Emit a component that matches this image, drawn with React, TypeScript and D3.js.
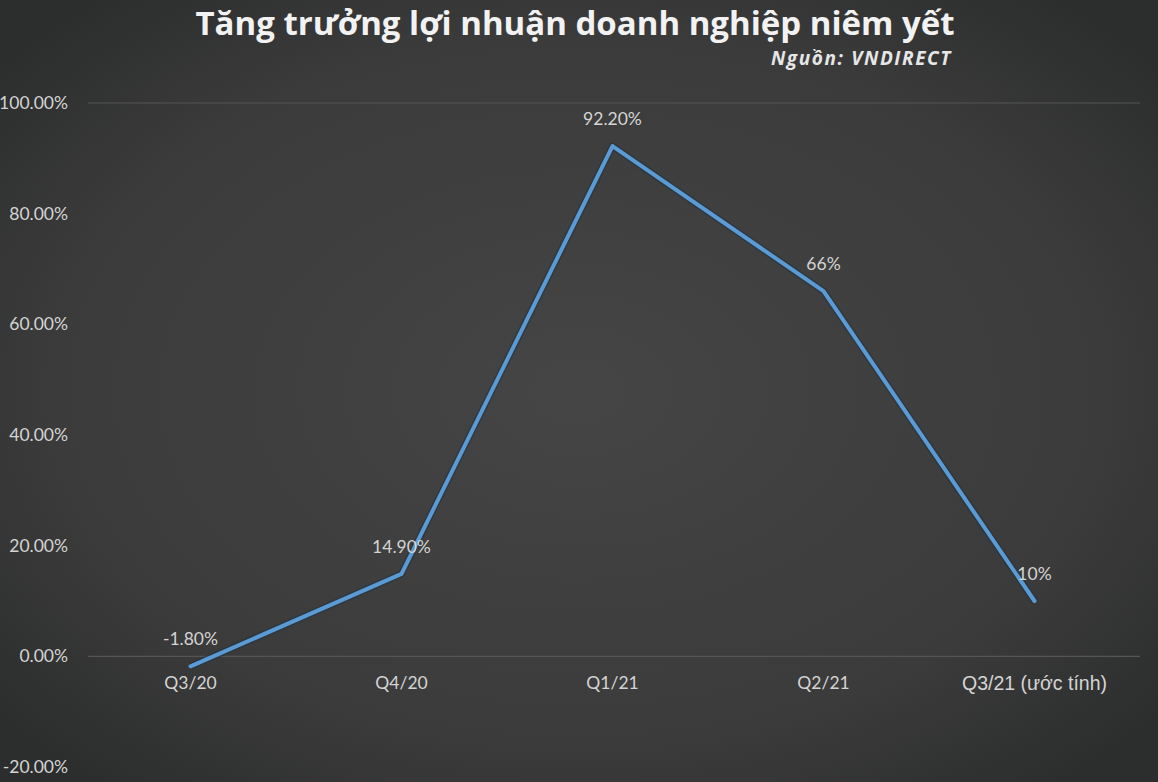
import { useEffect, useRef } from "react";
import * as d3 from "d3";

const categories = ["Q3/20", "Q4/20", "Q1/21", "Q2/21", "Q3/21 (ước tính)"];
const values = [-1.8, 14.9, 92.2, 66, 10];
const valueLabels = ["-1.80%", "14.90%", "92.20%", "66%", "10%"];
const yTicks = [-20, 0, 20, 40, 60, 80, 100];

const W = 1158;
const H = 782;
const LABEL_FONT = "Lato, 'Noto Sans', sans-serif";

const App = () => {
  const svgRef = useRef<SVGSVGElement>(null);

  useEffect(() => {
    if (!svgRef.current) return;
    const svg = d3.select(svgRef.current);
    svg.selectAll("*").remove();

    // dark vignette background
    const defs = svg.append("defs");
    const grad = defs
      .append("radialGradient")
      .attr("id", "bg")
      .attr("cx", "50%")
      .attr("cy", "50%")
      .attr("r", "65%");
    grad.append("stop").attr("offset", "0%").attr("stop-color", "#454545");
    grad.append("stop").attr("offset", "70%").attr("stop-color", "#3b3b3b");
    grad.append("stop").attr("offset", "100%").attr("stop-color", "#2c2d2d");
    svg.append("rect").attr("width", W).attr("height", H).attr("fill", "url(#bg)");

    const x = d3.scaleBand().domain(categories).range([85, 1140]);
    const y = d3.scaleLinear().domain([-20, 100]).range([767, 103]);
    const cx = (c: string) => x(c)! + x.bandwidth() / 2;

    // gridlines (only top and zero are visible in the original)
    svg
      .selectAll(".grid")
      .data([100, 0])
      .enter()
      .append("line")
      .attr("x1", 88)
      .attr("x2", 1140)
      .attr("y1", (d) => y(d))
      .attr("y2", (d) => y(d))
      .attr("stroke", "#555555")
      .attr("stroke-width", 1.2);

    // y tick labels
    svg
      .selectAll(".ytick")
      .data(yTicks)
      .enter()
      .append("text")
      .attr("x", 68)
      .attr("y", (d) => y(d))
      .attr("dy", "0.35em")
      .attr("text-anchor", "end")
      .attr("fill", "#d4d4d4")
      .attr("font-family", LABEL_FONT)
      .attr("font-size", 17.5)
      .text((d) => d.toFixed(2) + "%");

    // x category labels (the Vietnamese one falls back to an Arial-like face)
    svg
      .selectAll(".xtick")
      .data(categories)
      .enter()
      .append("text")
      .attr("x", (d) => cx(d))
      .attr("y", 683)
      .attr("dy", "0.35em")
      .attr("text-anchor", "middle")
      .attr("fill", "#d4d4d4")
      .attr("font-family", (d) =>
        /[^\x00-\x7f]/.test(d) ? "'Liberation Sans', Arial, sans-serif" : LABEL_FONT
      )
      .attr("font-size", (d) => (/[^\x00-\x7f]/.test(d) ? 19.5 : 17.5))
      .text((d) => d);

    const pts = categories.map((c, i) => ({
      c,
      v: values[i],
      label: valueLabels[i],
    }));
    const line = d3
      .line<{ c: string; v: number }>()
      .x((d) => cx(d.c))
      .y((d) => y(d.v));

    // soft shadow under the line
    svg
      .append("path")
      .datum(pts)
      .attr("d", line)
      .attr("fill", "none")
      .attr("stroke", "#1f2f40")
      .attr("stroke-width", 7)
      .attr("stroke-opacity", 0.5)
      .attr("stroke-linejoin", "round");

    svg
      .append("path")
      .datum(pts)
      .attr("d", line)
      .attr("fill", "none")
      .attr("stroke", "#5b9bd5")
      .attr("stroke-width", 4)
      .attr("stroke-linejoin", "round")
      .attr("stroke-linecap", "round");

    // data labels
    svg
      .selectAll(".dlabel")
      .data(pts)
      .enter()
      .append("text")
      .attr("x", (d) => cx(d.c))
      .attr("y", (d) => y(d.v) - 27)
      .attr("dy", "0.35em")
      .attr("text-anchor", "middle")
      .attr("fill", "#d4d4d4")
      .attr("font-family", LABEL_FONT)
      .attr("font-size", 17.5)
      .text((d) => d.label);

    // title
    svg
      .append("text")
      .attr("x", 575)
      .attr("y", 35)
      .attr("text-anchor", "middle")
      .attr("fill", "#f2f2f2")
      .attr("font-family", "'Open Sans', 'Noto Sans', sans-serif")
      .attr("font-weight", "bold")
      .attr("font-size", 33)
      .text("Tăng trưởng lợi nhuận doanh nghiệp niêm yết");

    svg
      .append("text")
      .attr("x", 952)
      .attr("y", 65)
      .attr("text-anchor", "end")
      .attr("fill", "#e6e6e6")
      .attr("font-family", "'Open Sans', 'Noto Sans', sans-serif")
      .attr("font-weight", "bold")
      .attr("font-style", "italic")
      .attr("font-size", 19)
      .attr("letter-spacing", 1.6)
      .text("Nguồn: VNDIRECT");
  }, []);

  return (
    <svg
      ref={svgRef}
      width={W}
      height={H}
      style={{ position: "absolute", left: 0, top: 0, display: "block" }}
    />
  );
};

export default App;
